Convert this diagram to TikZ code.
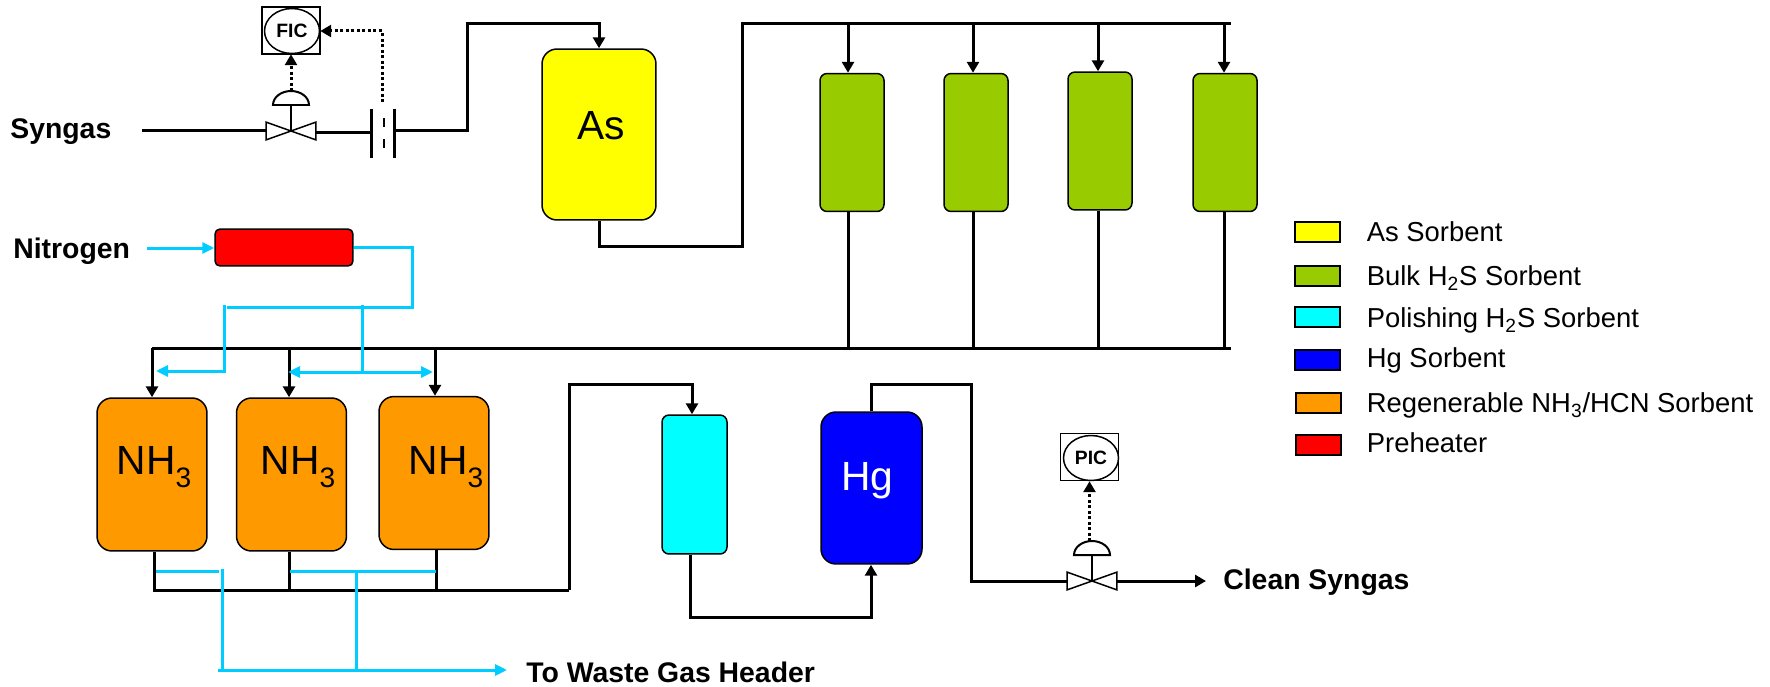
\documentclass[tikz,border=0pt]{standalone}
\usepackage{fontspec}
\setmainfont{Liberation Sans}
\usetikzlibrary{arrows.meta, positioning, shapes.geometric}

\newcommand{\ctrlvalve}[3]{
  \node[valvebody] (#1) at (#2,#3) {};
  \draw[thinline, fill=white] (#1.north west) -- (#1.south east) -- (#1.north east) -- (#1.south west) -- cycle;
  \draw[stem] (#1.center) -- ++(0,-26) coordinate (#1stem);
  \draw[stem, fill=white] (#1stem) ++(-18,0) arc[start angle=180, end angle=0, x radius=.36cm, y radius=.28cm] -- cycle;
  \coordinate (#1top) at ([yshift=.28cm]#1stem);
}
\newcommand{\nhthree}{NH\raisebox{-.32em}{\fontsize{16}{18}\selectfont 3}}

\begin{document}
\begin{tikzpicture}[x=.02cm, y=-.02cm,
  pipe/.style={line width=.06cm, black},
  flow/.style={pipe, -{Triangle[length=.22cm, width=.24cm]}},
  gasline/.style={line width=.06cm, color=gascyan},
  gasflow/.style={gasline, -{Triangle[length=.24cm, width=.22cm]}},
  gasboth/.style={gasline, {Triangle[length=.24cm, width=.22cm]}-{Triangle[length=.24cm, width=.22cm]}},
  signal/.style={line width=.06cm, dash pattern=on .06cm off .05cm, -{Triangle[length=.22cm, width=.24cm]}},
  thinline/.style={line width=.03cm},
  stem/.style={line width=.04cm},
  valvebody/.style={minimum width=.98cm, minimum height=.34cm, inner sep=0pt},
  vessel/.style={draw, line width=.03cm, inner sep=0pt, rounded corners=.3cm},
  asvessel/.style={vessel, fill=asyellow, minimum width=2.28cm, minimum height=3.42cm},
  bulkvessel/.style={vessel, rounded corners=.14cm, fill=bulkgreen, minimum width=1.28cm, minimum height=2.76cm},
  polvessel/.style={vessel, rounded corners=.14cm, fill=polcyan, minimum width=1.3cm, minimum height=2.78cm},
  hgvessel/.style={vessel, fill=hgblue, minimum width=2.02cm, minimum height=3.04cm},
  nhvessel/.style={vessel, fill=nhorange, minimum width=2.2cm, minimum height=3.06cm},
  heater/.style={vessel, rounded corners=.1cm, fill=heatred, minimum width=2.76cm, minimum height=.74cm},
  vesseltext/.style={anchor=base, inner sep=0pt, font=\fontsize{23.2}{26}\selectfont},
  streamlabel/.style={anchor=west, inner sep=0pt, font=\bfseries\fontsize{16.15}{18}\selectfont},
  instrbox/.style={draw, thinline, minimum width=1.16cm, minimum height=.94cm, inner sep=0pt},
  instr/.style={draw, thinline, ellipse, minimum width=1.1cm, minimum height=.9cm, inner sep=0pt, font=\bfseries\fontsize{11}{12}\selectfont},
  swatch/.style={draw, line width=.04cm, minimum width=.9cm, minimum height=.4cm, inner sep=0pt},
  legendtext/.style={anchor=west, inner sep=0pt, text height=14pt, text depth=2.8pt, font=\fontsize{15.6}{18}\selectfont}]
  \definecolor{asyellow}{HTML}{FFFF00}
  \definecolor{bulkgreen}{HTML}{99CC00}
  \definecolor{polcyan}{HTML}{00FFFF}
  \definecolor{hgblue}{HTML}{0000FF}
  \definecolor{nhorange}{HTML}{FF9900}
  \definecolor{heatred}{HTML}{FF0000}
  \definecolor{gascyan}{HTML}{00CCFF}
  \useasboundingbox (0,0) rectangle (1770,686);

  \node[streamlabel] (syngas) at (10,132) {Syngas};
  \node[streamlabel] (nitrogen) at (13,251) {Nitrogen};
  \node[streamlabel] (cleansyngas) at (1223,582.5) {Clean Syngas};
  \node[streamlabel] (waste) at (526,672) {To Waste Gas Header};

  \node[asvessel] (asbed) at (599,134.5) {};
  \node[vesseltext] at (601,139) {As};
  \node[bulkvessel] (bulka) at (852,142.5) {};
  \node[bulkvessel] (bulkb) at (976,142.5) {};
  \node[bulkvessel] (bulkc) at (1100,141) {};
  \node[bulkvessel] (bulkd) at (1225,142.5) {};
  \node[nhvessel] (nha) at (152,474.5) {};
  \node[vesseltext] at (154,474) {\nhthree};
  \node[nhvessel] (nhb) at (291.5,474.5) {};
  \node[vesseltext] at (298,474) {\nhthree};
  \node[nhvessel] (nhc) at (434,473) {};
  \node[vesseltext] at (446,474) {\nhthree};
  \node[polvessel] (polish) at (694.5,484.5) {};
  \node[hgvessel] (hgbed) at (871.5,488) {};
  \node[vesseltext, white] at (867.5,490) {Hg};
  \node[heater] (preheater) at (284,247.5) {};

  \node[instrbox] (ficbox) at (291,30.5) {};
  \node[instr] (fic) at (292,31) {FIC};
  \node[instrbox] (picbox) at (1089.5,457) {};
  \node[instr] (pic) at (1091,458) {PIC};
  \ctrlvalve{synvalve}{291}{131}
  \ctrlvalve{cleanvalve}{1092}{581}
  \node[minimum width=.44cm, minimum height=.98cm, inner sep=0pt] (orifice) at (383,133.5) {};

  \coordinate (synstart) at (142,130);
  \coordinate (asfeed) at (467,130);
  \coordinate (bulkriser) at (742,24);
  \coordinate (bulkina) at (848,24);
  \coordinate (bulkinb) at (973,24);
  \coordinate (bulkinc) at (1098,24);
  \coordinate (bulkind) at (1224,24);
  \coordinate (headleft) at (152,348);
  \coordinate (headright) at (1231,348);
  \coordinate (nhinb) at (289,348);
  \coordinate (nhinc) at (435,348);
  \coordinate (nhout) at (154,590);
  \coordinate (nhoutb) at (289,590);
  \coordinate (nhoutc) at (436,590);
  \coordinate (polfeed) at (569,590);
  \coordinate (polin) at (692,384);
  \coordinate (polout) at (690,617);
  \coordinate (hgin) at (871,617);
  \coordinate (hgturn) at (971,384);
  \coordinate (cleanend) at (1206,581);

  \draw[pipe] (synstart) -- (synstart -| synvalve.west);
  \draw[pipe] (synvalve.east |- 0,132) -- (orifice.west |- 0,132);
  \draw[pipe] (orifice.north west) -- (orifice.south west);
  \draw[pipe] (orifice.north east) -- (orifice.south east);
  \draw[line width=.05cm] (384,118) -- (384,127);
  \draw[line width=.05cm] (384,139) -- (384,148);
  \draw[flow] (orifice.east |- asfeed) -- (asfeed) |- (bulkriser -| asbed.north) -- (asbed.north);
  \draw[signal] (synvalvetop) -- (synvalvetop |- fic.south);
  \draw[signal] (382,102) |- (fic.east);

  \draw[pipe] (asbed.south) |- (742,246) -- (bulkriser) -- (bulkind -| headright);
  \draw[flow] (bulkina) -- (bulkina |- bulka.north);
  \draw[flow] (bulkinb) -- (bulkinb |- bulkb.north);
  \draw[flow] (bulkinc) -- (bulkinc |- bulkc.north);
  \draw[flow] (bulkind) -- (bulkind |- bulkd.north);
  \draw[pipe] (bulkina |- bulka.south) -- (bulkina |- headleft);
  \draw[pipe] (bulkinb |- bulkb.south) -- (bulkinb |- headleft);
  \draw[pipe] (bulkinc |- bulkc.south) -- (bulkinc |- headleft);
  \draw[pipe] (bulkind |- bulkd.south) -- (bulkind |- headleft);

  \draw[pipe] (headleft) -- (headright);
  \draw[flow] (headleft) -- (headleft |- nha.north);
  \draw[flow] (nhinb) -- (nhinb |- nhb.north);
  \draw[flow] (nhinc) -- (nhinc |- nhc.north);
  \draw[pipe] (nhout |- nha.south) -- (nhout) -- (polfeed);
  \draw[pipe] (nhoutb |- nhb.south) -- (nhoutb);
  \draw[pipe] (nhoutc |- nhc.south) -- (nhoutc);
  \draw[flow] (polfeed) |- (polin) -- (polin |- polish.north);
  \draw[flow] (polout |- polish.south) -- (polout) -- (hgin) -- (hgin |- hgbed.south);
  \draw[pipe] (hgin |- hgbed.north) |- (hgturn) |- (cleanvalve.west);
  \draw[flow] (cleanvalve.east) -- (cleanend);
  \draw[signal] (picbox.south |- cleanvalvetop) -- (picbox.south);

  \coordinate (n2start) at (147,248);
  \coordinate (n2turn) at (412,247);
  \coordinate (n2split) at (412,307);
  \coordinate (n2left) at (224,307);
  \coordinate (n2mid) at (362,307);
  \coordinate (wasteend) at (507,670);
  \draw[gasflow] (n2start) -- (preheater.west |- n2start);
  \draw[gasline] (preheater.east |- n2turn) -- (n2turn) -- (n2split) -- (227,307);
  \draw[gasflow] (n2left |- 0,305) -- (n2left |- 0,371) -- (156,371);
  \draw[gasline] (n2mid |- 0,305) -- (n2mid |- 0,372);
  \draw[gasboth] (288,372) -- (433,372);
  \draw[gasline] (156,571) -- (219,571);
  \draw[gasline] (290,571) -- (436,571);
  \draw[gasline] (222,569) -- (222,670);
  \draw[gasline] (356,571) -- (356,670);
  \draw[gasflow] (218,670) -- (wasteend);

  \node[swatch, fill=asyellow] (keyas) at (1317,232) {};
  \node[legendtext, right=.52cm of keyas] (keyastext) {As Sorbent};
  \node[swatch, fill=bulkgreen] (keybulk) at (1317,276) {};
  \node[legendtext, right=.52cm of keybulk] (keybulktext) {Bulk H\textsubscript{2}S Sorbent};
  \node[swatch, fill=polcyan] (keypol) at (1317,317) {};
  \node[legendtext, right=.52cm of keypol, yshift=-.02cm] (keypoltext) {Polishing H\textsubscript{2}S Sorbent};
  \node[swatch, fill=hgblue] (keyhg) at (1317,360) {};
  \node[legendtext, right=.52cm of keyhg, yshift=.04cm] (keyhgtext) {Hg Sorbent};
  \node[swatch, fill=nhorange] (keynh) at (1318.5,402.5) {};
  \node[legendtext, right=.49cm of keynh] (keynhtext) {Regenerable NH\textsubscript{3}/HCN Sorbent};
  \node[swatch, fill=heatred] (keyheat) at (1318.5,445) {};
  \node[legendtext, right=.49cm of keyheat, yshift=.04cm] (keyheattext) {Preheater};
\end{tikzpicture}
\end{document}
